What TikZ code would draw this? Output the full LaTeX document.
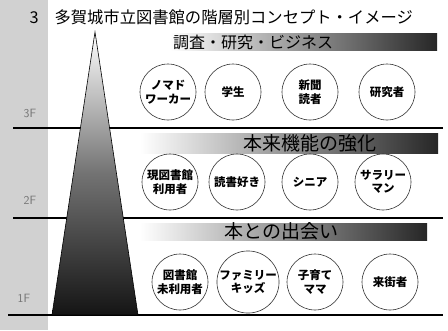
\documentclass[tikz,border=0pt]{standalone}
\usepackage{fontspec}
\newfontfamily\jp{Noto Sans CJK JP}
\begin{document}
\begin{tikzpicture}[x=1pt,y=-1pt,
  person/.style={draw=black!80,line width=0.6pt,circle,minimum size=56pt,inner sep=0pt,align=center,font=\jp\bfseries\fontsize{11.5}{13.5}\selectfont,fill=white},
  banner/.style={left color=white,right color=black!85,draw=none},
  floorline/.style={line width=1.6pt,black},
  floorlbl/.style={font=\fontsize{12}{12}\selectfont\sffamily,text=black!55}]
\useasboundingbox (0,0) rectangle (448,330);
\fill[white] (0,0) rectangle (448,330);
\fill[black!18] (0,0) rectangle (48,330);
% title
\node[anchor=west,font=\jp\fontsize{16.3}{16.3}\selectfont] (title) at (26,17) {3\hspace{16pt}多賀城市立図書館の階層別コンセプト・イメージ};
% floor lines
\coordinate (l3a) at (13,128); \coordinate (l3b) at (443,128);
\coordinate (l2a) at (13,218); \coordinate (l2b) at (443,218);
\coordinate (l1a) at (8,315); \coordinate (l1b) at (443,315);
\draw[floorline] (l3a) -- (l3b);
\draw[floorline] (l2a) -- (l2b);
\draw[floorline] (l1a) -- (l1b);
\node[floorlbl] (f3) at (30,113) {3F};
\node[floorlbl] (f2) at (30,200) {2F};
\node[floorlbl] (f1) at (24,298) {1F};
% triangle
\coordinate (apex) at (95,32);
\coordinate (bl) at (52,315);
\coordinate (br) at (138,315);
\shade[top color=white,bottom color=black!92,middle color=black!55,draw=black,line width=0.6pt] (apex) -- (br) -- (bl) -- cycle;
% banners
\shade[banner] (170,33) rectangle (437,50);
\node[anchor=west,font=\jp\fontsize{16}{16}\selectfont,inner sep=0pt] (b1) at (173,42) {調査・研究・ビジネス};
\shade[banner] (140,133) rectangle (438,153);
\node[anchor=west,font=\jp\fontsize{19}{19}\selectfont,inner sep=0pt] (b2) at (243,143) {本来機能の強化};
\shade[banner] (140,223) rectangle (427,240);
\node[anchor=west,font=\jp\fontsize{19}{19}\selectfont,inner sep=0pt] (b3) at (224,231.5) {本との出会い};
% row 3F
\node[person] (p11) at (168,92) {ノマド\\ワーカー};
\node[person] (p12) at (233,92) {学生};
\node[person] (p13) at (310,92) {新聞\\読者};
\node[person] (p14) at (387,92) {研究者};
% row 2F
\node[person] (p21) at (170,182) {現図書館\\利用者};
\node[person] (p22) at (237,182) {読書好き};
\node[person] (p23) at (310,182) {シニア};
\node[person] (p24) at (383,182) {サラリー\\マン};
% row 1F
\node[person] (p31) at (180,282) {図書館\\未利用者};
\node[person] (p32) at (248,282) {ファミリー\\キッズ};
\node[person] (p33) at (315,282) {子育て\\ママ};
\node[person] (p34) at (390,282) {来街者};
\end{tikzpicture}
\end{document}
